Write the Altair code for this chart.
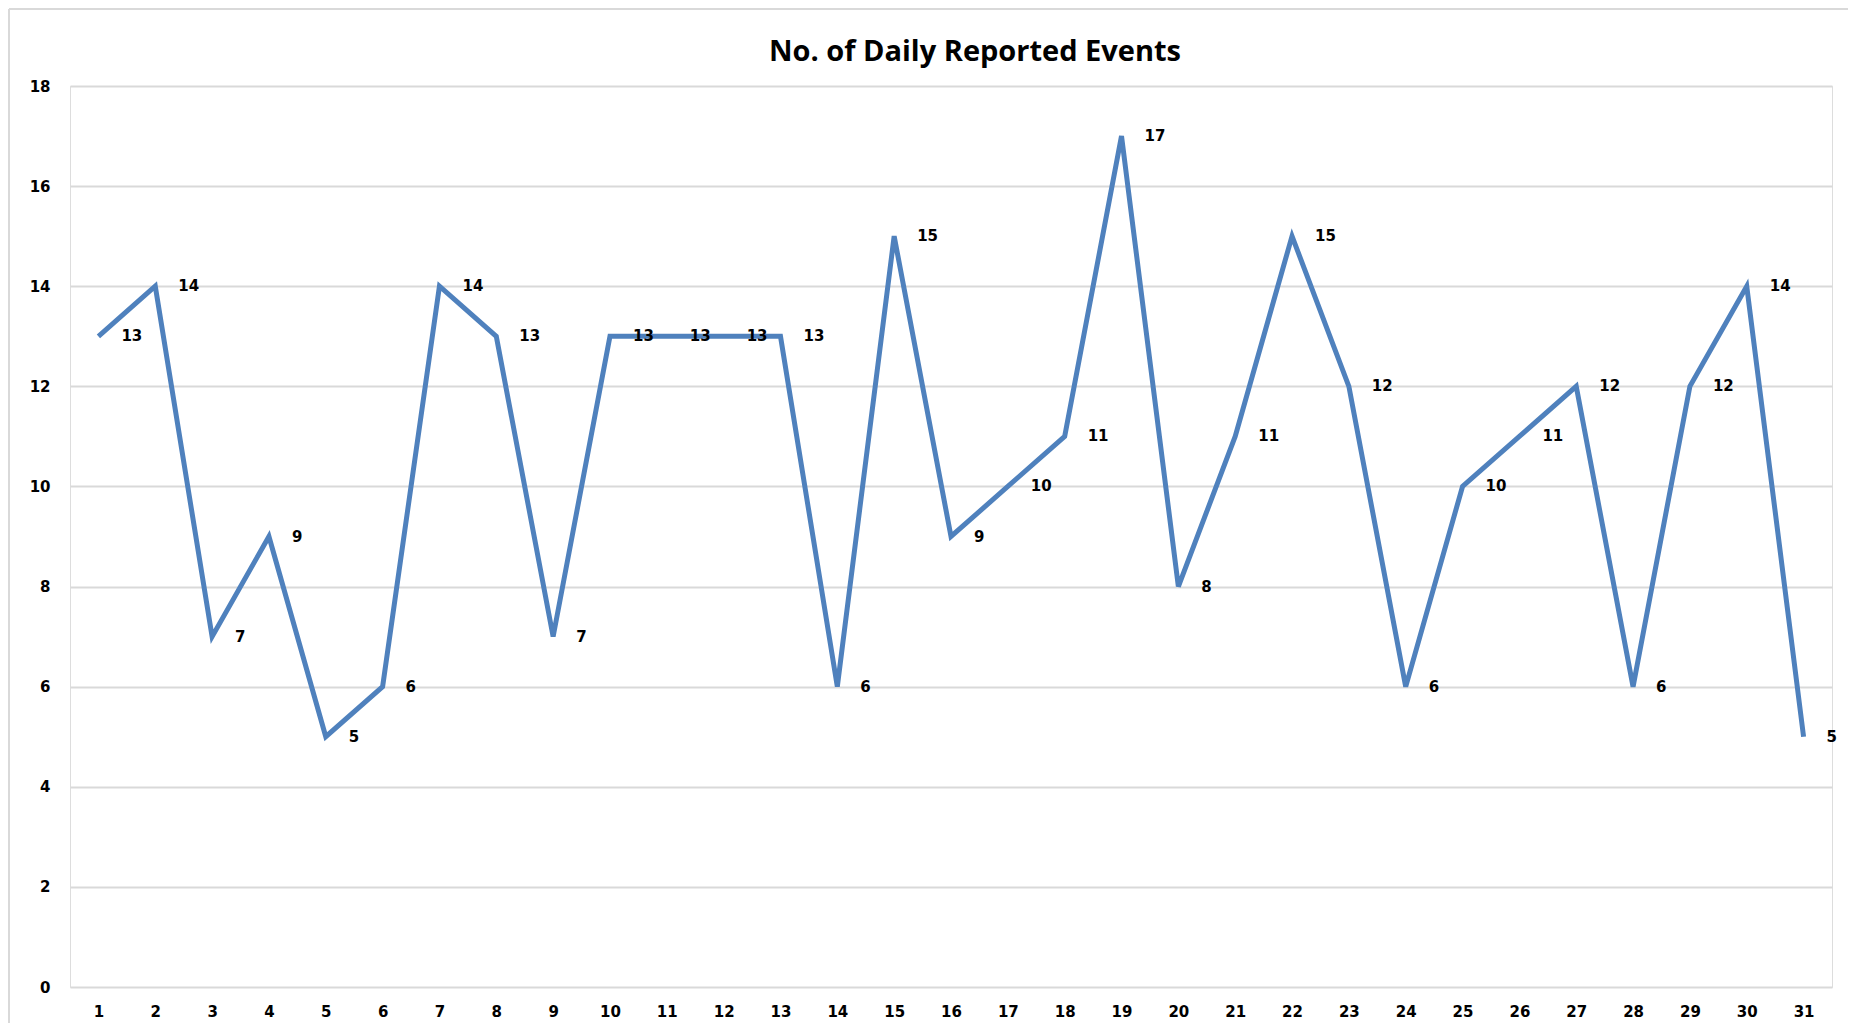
import altair as alt
import pandas as pd

title_text = "No. of Daily Reported Events"
days = list(range(1, 32))
events = [13, 14, 7, 9, 5, 6, 14, 13, 7, 13, 13, 13, 13, 6, 15, 9, 10, 11, 17, 8,
          11, 15, 12, 6, 10, 11, 12, 6, 12, 14, 5]
y_ticks = [0, 2, 4, 6, 8, 10, 12, 14, 16, 18]

df = pd.DataFrame({"day": [str(d) for d in days], "events": events})
order = [str(d) for d in days]

W, H = 1762, 901
GRID = "#D9D9D9"
LINE = "#4F81BD"

x_enc = alt.X("day:N", sort=order, scale=alt.Scale(paddingInner=0, paddingOuter=0.5),
              axis=alt.Axis(title=None, labelAngle=0, labelFont="DejaVu Sans", labelFontWeight="bold",
                            labelFontSize=15, labelColor="#000000", labelPadding=17,
                            ticks=False, domain=False, grid=False))
y_enc = alt.Y("events:Q", scale=alt.Scale(domain=[0, 18], nice=False),
              axis=alt.Axis(title=None, values=y_ticks, labelFont="DejaVu Sans", labelFontWeight="bold",
                            labelFontSize=15, labelColor="#000000", labelPadding=20,
                            ticks=False, domain=False, grid=True, gridColor=GRID, gridWidth=2))

base = alt.Chart(df)
line = base.mark_line(color=LINE, strokeWidth=5, strokeJoin="miter").encode(x=x_enc, y=y_enc)
labels = base.mark_text(align="left", baseline="middle", dx=23, font="DejaVu Sans",
                        fontWeight="bold", fontSize=15, color="#000000").encode(
    x=alt.X("day:N", sort=order), y="events:Q", text="events:Q")

title = alt.Chart(pd.DataFrame({"t": [title_text]})).mark_text(
    font="Open Sans", fontWeight="bold", fontSize=29, color="#000000", align="center", baseline="middle"
).encode(x=alt.value(905), y=alt.value(-34), text="t:N")

border_left = alt.Chart(pd.DataFrame({"a": [0]})).mark_rule(color=GRID, strokeWidth=2).encode(
    x=alt.value(-61), y=alt.value(-77), y2=alt.value(937))
border_top = alt.Chart(pd.DataFrame({"a": [0]})).mark_rule(color=GRID, strokeWidth=2).encode(
    x=alt.value(-61), x2=alt.value(1778), y=alt.value(-77))

chart = alt.layer(line, labels, title, border_left, border_top).properties(
    width=W, height=H,
    autosize=alt.AutoSizeParams(type="none"),
    padding={"left": 62, "top": 78, "right": 16, "bottom": 36},
).configure_view(stroke=None).configure(background="white")

chart.save("out.html", embed_options={"renderer": "svg", "actions": False})
